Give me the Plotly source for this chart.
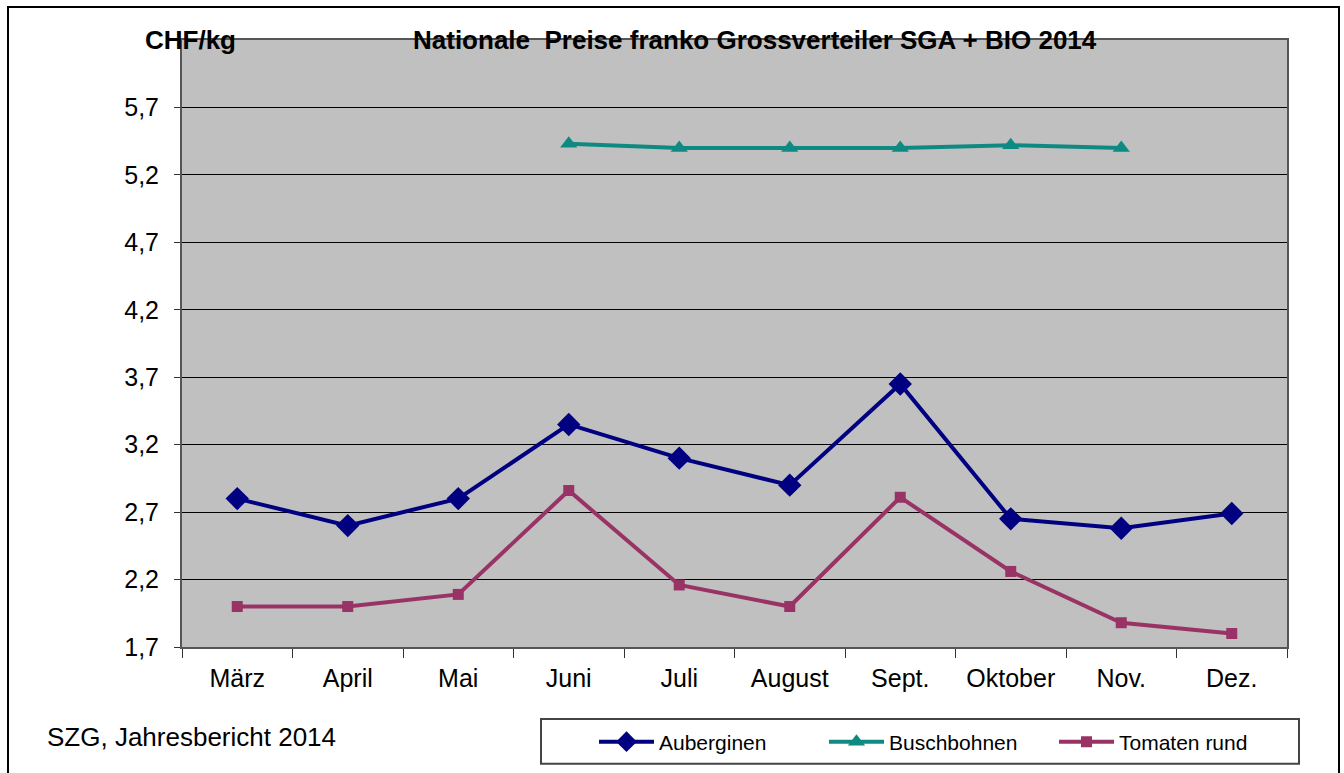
import plotly.graph_objects as go

months = ["März", "April", "Mai", "Juni", "Juli", "August", "Sept.", "Oktober", "Nov.", "Dez."]
auberginen = [2.80, 2.60, 2.80, 3.35, 3.10, 2.90, 3.65, 2.65, 2.58, 2.69]
buschbohnen = [None, None, None, 5.43, 5.40, 5.40, 5.40, 5.42, 5.40, None]
tomaten = [2.00, 2.00, 2.09, 2.86, 2.16, 2.00, 2.81, 2.26, 1.88, 1.80]
y_ticks = [1.7, 2.2, 2.7, 3.2, 3.7, 4.2, 4.7, 5.2, 5.7]

W, H = 1344, 773
L, R, T, B = 182, 57, 40, 125
pw, ph = W - L - R, H - T - B

def px(x):
    return (x - L) / pw

def py(y):
    return (H - B - y) / ph

fig = go.Figure()
fig.add_trace(go.Scatter(x=months, y=auberginen, name="Auberginen", mode="lines+markers",
                         line=dict(color="#000080", width=4),
                         marker=dict(symbol="diamond", size=18, color="#000080")))
fig.add_trace(go.Scatter(x=months, y=buschbohnen, name="Buschbohnen", mode="lines+markers",
                         line=dict(color="#0E8A82", width=4),
                         marker=dict(symbol="triangle-up", size=15, color="#0E8A82")))
fig.add_trace(go.Scatter(x=months, y=tomaten, name="Tomaten rund", mode="lines+markers",
                         line=dict(color="#993366", width=4),
                         marker=dict(symbol="square", size=11, color="#993366")))

font = "Liberation Sans, Arial, sans-serif"
fig.update_layout(
    width=W, height=H,
    margin=dict(l=L, r=R, t=T, b=B),
    paper_bgcolor="white", plot_bgcolor="#C0C0C0",
    separators=", ",
    font=dict(family=font, size=25, color="#000"),
    showlegend=True,
    legend=dict(orientation="h", x=px(594), xanchor="left", y=py(742), yanchor="middle",
                bgcolor="rgba(0,0,0,0)", borderwidth=0, font=dict(size=21, family=font),
                itemwidth=55, entrywidth=160, tracegroupgap=0),
    xaxis=dict(type="category", tickson="boundaries", ticks="outside", ticklen=9,
               tickcolor="#333", showgrid=False, showline=True, linecolor="#555", linewidth=2,
               mirror=True, tickfont=dict(size=25), ticklabelstandoff=8,
               range=[-0.5, 9.5], fixedrange=True),
    yaxis=dict(range=[1.7, 6.2], tickvals=y_ticks, tickformat=".1f", ticks="outside",
               ticklen=6, tickcolor="#333", showgrid=True, gridcolor="#000", gridwidth=1,
               showline=True, linecolor="#555", linewidth=2, mirror=True,
               tickfont=dict(size=25), ticklabelstandoff=10, zeroline=False),
    shapes=[
        dict(type="rect", xref="paper", yref="paper", x0=px(8), x1=px(1339), y0=py(780), y1=py(7),
             line=dict(color="#000", width=2), layer="below"),
        dict(type="rect", xref="paper", yref="paper", x0=px(541), x1=px(1299), y0=py(765), y1=py(720),
             line=dict(color="#444", width=2), layer="below"),
    ],
    annotations=[
        dict(text="<b>Nationale  Preise franko Grossverteiler SGA + BIO 2014</b>", xref="paper", yref="paper",
             x=px(755), y=py(40), xanchor="center", yanchor="middle", showarrow=False,
             font=dict(size=26, family=font)),
        dict(text="<b>CHF/kg</b>", xref="paper", yref="paper",
             x=px(190), y=py(40), xanchor="center", yanchor="middle", showarrow=False,
             font=dict(size=26, family=font)),
        dict(text="SZG, Jahresbericht 2014", xref="paper", yref="paper",
             x=px(45), y=py(738), xanchor="left", yanchor="middle", showarrow=False,
             font=dict(size=26, family=font)),
    ],
)

fig.write_html("out.html", config={"displayModeBar": False},
               post_script="document.body.style.margin='0px';document.body.style.overflow='hidden';")
